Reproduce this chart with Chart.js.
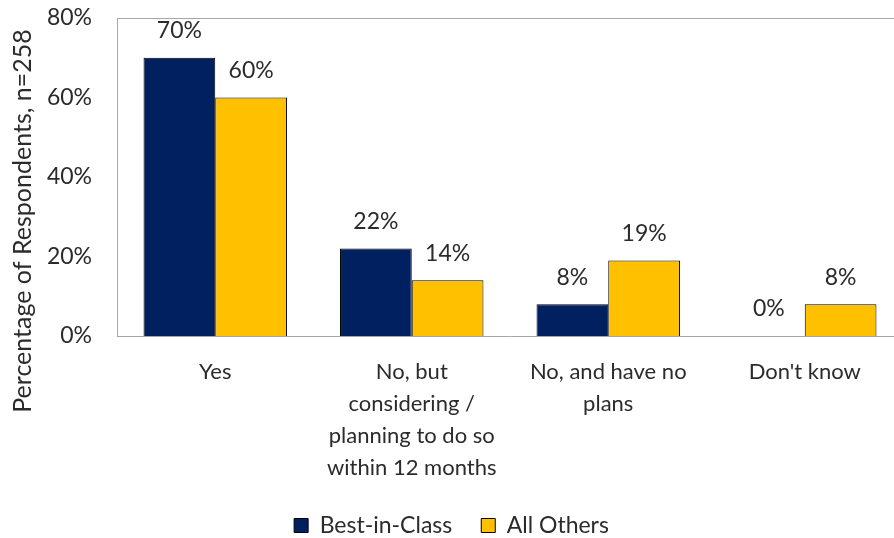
<!DOCTYPE html>
<html>
<head>
<meta charset="utf-8">
<script src="https://cdn.jsdelivr.net/npm/chart.js@4/dist/chart.umd.min.js"></script>
<style>
  html, body { margin: 0; padding: 0; background: #ffffff; overflow: hidden; }
  #wrap { width: 894px; height: 538px; overflow: hidden; }
  canvas { display: block; }
</style>
</head>
<body>
<div id="wrap"><canvas id="chart" width="904" height="538"></canvas></div>
<script>
// Survey answers and the share of each group giving them (percent)
const categories = [
  ['Yes'],
  ['No, but', 'considering /', 'planning to do so', 'within 12 months'],
  ['No, and have no', 'plans'],
  ["Don't know"]
];
const seriesNames = ['Best-in-Class', 'All Others'];
const bestInClass = [70, 22, 8, 0];
const allOthers = [60, 14, 19, 8];
const yTicks = [0, 20, 40, 60, 80];
const yTitle = 'Percentage of Respondents, n=258';

const FONT = 'Lato, "Open Sans", sans-serif';
const TEXT = '#2b2b2b';
const AXIS = '#a6a6a6';

// value labels above each bar
const valueLabels = {
  id: 'valueLabels',
  afterDatasetsDraw(chart) {
    const ctx = chart.ctx;
    ctx.save();
    ctx.font = '23px ' + FONT;
    ctx.fillStyle = TEXT;
    ctx.textAlign = 'center';
    ctx.textBaseline = 'middle';
    chart.data.datasets.forEach((ds, di) => {
      chart.getDatasetMeta(di).data.forEach((bar, i) => {
        ctx.fillText(ds.data[i] + '%', bar.x, bar.y - 27);
      });
    });
    ctx.restore();
  }
};

// top edge of the plot frame and the rotated value-axis title
const frameAndTitle = {
  id: 'frameAndTitle',
  beforeDatasetsDraw(chart) {
    const a = chart.chartArea, ctx = chart.ctx;
    ctx.save();
    ctx.strokeStyle = AXIS;
    ctx.lineWidth = 1;
    ctx.beginPath();
    ctx.moveTo(a.left, Math.round(a.top) + 0.5);
    ctx.lineTo(a.right, Math.round(a.top) + 0.5);
    ctx.stroke();
    ctx.restore();
  },
  afterDraw(chart) {
    const ctx = chart.ctx;
    ctx.save();
    ctx.translate(23, 221);
    ctx.rotate(-Math.PI / 2);
    ctx.font = '25px ' + FONT;
    ctx.fillStyle = TEXT;
    ctx.textAlign = 'center';
    ctx.textBaseline = 'middle';
    ctx.fillText(yTitle, 0, 0);
    ctx.restore();
  }
};

new Chart(document.getElementById('chart'), {
  type: 'bar',
  data: {
    labels: categories,
    datasets: [
      {
        label: seriesNames[0],
        data: bestInClass,
        backgroundColor: '#002060',
        borderColor: '#000000',
        borderWidth: c => (c.raw === 0 ? 0 : 1),
        categoryPercentage: 0.73,
        barPercentage: 1.0
      },
      {
        label: seriesNames[1],
        data: allOthers,
        backgroundColor: '#ffc000',
        borderColor: '#000000',
        borderWidth: c => (c.raw === 0 ? 0 : 1),
        categoryPercentage: 0.73,
        barPercentage: 1.0
      }
    ]
  },
  options: {
    responsive: false,
    animation: false,
    layout: { padding: { top: 18, right: 1, left: 0, bottom: -9 } },
    plugins: {
      tooltip: { enabled: false },
      legend: {
        position: 'bottom',
        labels: {
          font: { family: FONT, size: 23 },
          color: TEXT,
          boxWidth: 14,
          boxHeight: 14,
          padding: 29,
          generateLabels(chart) {
            return chart.data.datasets.map((ds, i) => ({
              text: ds.label,
              fillStyle: ds.backgroundColor,
              strokeStyle: '#000000',
              lineWidth: 1,
              fontColor: TEXT,
              datasetIndex: i
            }));
          }
        }
      }
    },
    scales: {
      x: {
        grid: { display: false, drawTicks: false },
        border: { display: true, color: AXIS, width: 1 },
        ticks: {
          color: TEXT,
          font: { family: FONT, size: 22, lineHeight: 1.45 },
          padding: 20,
          maxRotation: 0,
          autoSkip: false
        },
        afterFit(scale) { scale.height = 149; }
      },
      y: {
        min: 0,
        max: 80,
        afterBuildTicks(scale) { scale.ticks = yTicks.map(v => ({ value: v })); },
        grid: { display: false, drawTicks: false },
        border: { display: true, color: AXIS, width: 1 },
        ticks: {
          color: TEXT,
          font: { family: FONT, size: 23 },
          padding: 25,
          callback: v => v + '%'
        },
        afterFit(scale) {
          scale.width = 117;
          // the top/bottom tick labels may overhang the plot frame
          scale.paddingTop = 0;
          scale.paddingBottom = 0;
        }
      }
    }
  },
  plugins: [valueLabels, frameAndTitle]
});
</script>
</body>
</html>
